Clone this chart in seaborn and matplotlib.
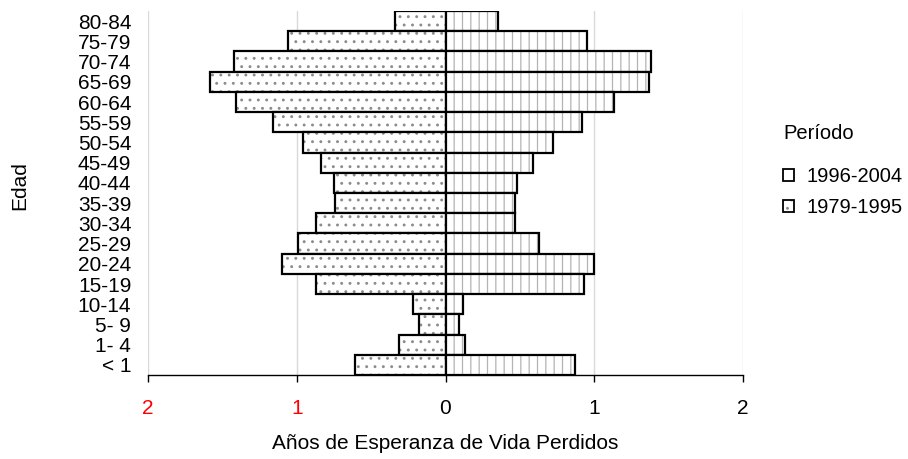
import pandas as pd
import matplotlib
matplotlib.use("Agg")
import matplotlib.pyplot as plt
import seaborn as sns
from matplotlib.colors import to_rgba
from matplotlib.patches import Patch

# Age groups, top to bottom
edades = ["80-84", "75-79", "70-74", "65-69", "60-64", "55-59", "50-54", "45-49",
          "40-44", "35-39", "30-34", "25-29", "20-24", "15-19", "10-14", "5- 9",
          "1- 4", "< 1"]

# Years of life expectancy lost per period
p_1979_1995 = [0.34, 1.06, 1.42, 1.58, 1.41, 1.16, 0.96, 0.84, 0.75, 0.74,
               0.87, 0.99, 1.10, 0.87, 0.22, 0.18, 0.31, 0.61]
p_1996_2004 = [0.35, 0.95, 1.38, 1.37, 1.13, 0.92, 0.72, 0.59, 0.48, 0.47,
               0.47, 0.63, 1.00, 0.93, 0.12, 0.09, 0.13, 0.87]

x_ticks = [-2, -1, 0, 1, 2]
x_tick_labels = ["2", "1", "0", "1", "2"]

sns.set_style("white")
plt.rcParams["font.family"] = ["Liberation Sans", "DejaVu Sans"]
plt.rcParams["hatch.linewidth"] = 0.9
for k in ["text.color", "axes.labelcolor", "xtick.color", "ytick.color"]:
    plt.rcParams[k] = "black"


def grey_hatch(patch, color):
    # keep black outline, grey hatch
    try:
        patch.set_hatchcolor(color)
    except AttributeError:
        patch._hatch_color = to_rgba(color)
    patch.stale = True


df_izq = pd.DataFrame({"edad": edades, "valor": [-v for v in p_1979_1995]})
df_der = pd.DataFrame({"edad": edades, "valor": p_1996_2004})

fig = plt.figure(figsize=(9.08, 4.59), dpi=100)
ax = fig.add_axes([148 / 908, 84 / 459, 595 / 908, 364 / 459])

sns.barplot(data=df_izq, x="valor", y="edad", order=edades, orient="h", width=1.0,
            color="white", edgecolor="black", linewidth=1.6, hatch="..", ax=ax)
n_izq = len(ax.patches)
sns.barplot(data=df_der, x="valor", y="edad", order=edades, orient="h", width=1.0,
            color="white", edgecolor="black", linewidth=1.6, hatch="||", ax=ax)

for i, p in enumerate(ax.patches):
    p.set_facecolor("white")
    grey_hatch(p, "#8c8c8c" if i < n_izq else "#b4b4b4")

ax.set_xlim(-2, 2)
ax.set_ylim(17.5, -0.5)
ax.set_xticks(x_ticks)
ax.set_xticklabels(x_tick_labels)
for lbl in ax.get_xticklabels()[:2]:
    lbl.set_color("red")

ax.xaxis.grid(True, color="#d9d9d9", linewidth=1)
ax.yaxis.grid(False)
ax.set_axisbelow(True)

for s in ["top", "right", "left"]:
    ax.spines[s].set_visible(False)
ax.spines["bottom"].set_color("black")
ax.spines["bottom"].set_linewidth(1)

ax.tick_params(axis="x", direction="out", length=5, width=1, color="black",
               pad=12, labelsize=15, bottom=True)
ax.tick_params(axis="y", length=0, pad=12, labelsize=15)

ax.set_xlabel("Años de Esperanza de Vida Perdidos", fontsize=15, labelpad=12)
ax.set_ylabel("Edad", fontsize=15)
ax.yaxis.set_label_coords(-0.2, 0.52)

handles = [Patch(facecolor="white", edgecolor="black", linewidth=1.3, label="1996-2004"),
           Patch(facecolor="white", edgecolor="black", linewidth=1.3, hatch="..",
                 label="1979-1995")]
leg = fig.legend(handles=handles, title="Período", loc="upper left",
                 bbox_to_anchor=(765 / 908, 1 - 106 / 459), frameon=False,
                 fontsize=14.5, title_fontsize=14.5, handlelength=0.55, handleheight=0.55,
                 handletextpad=0.6, labelspacing=0.6)
leg._legend_box.align = "left"
leg._legend_box.sep = 17  # more room under the title
grey_hatch(leg.legend_handles[1], "#8c8c8c")

fig.savefig("out.png", dpi=100)
